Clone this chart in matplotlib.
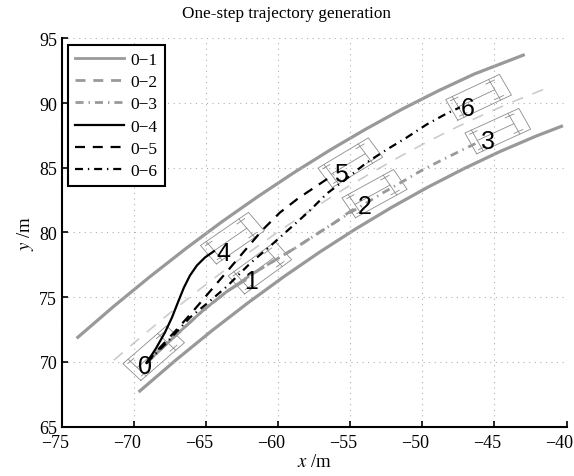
import numpy as np
import matplotlib
matplotlib.use('Agg')
import matplotlib.pyplot as plt
from matplotlib.transforms import ScaledTranslation

plt.rcParams['font.family'] = 'serif'
plt.rcParams['font.serif'] = ['Liberation Serif', 'DejaVu Serif']
plt.rcParams['mathtext.fontset'] = 'stix'

# Road geometry
upper_x = [-73.9, -71.4, -68.9, -66.4, -63.9, -61.4, -58.9, -56.4, -53.9, -51.4, -48.9, -46.4, -43.0]
upper_y = [71.9, 74.30, 76.58, 78.76, 80.83, 82.78, 84.63, 86.37, 88.0, 89.53, 90.94, 92.24, 93.7]
lower_x = [-69.6, -67.1, -64.6, -62.1, -59.6, -57.1, -54.6, -52.1, -49.6, -47.1, -44.6, -42.1, -40.35]
lower_y = [67.75, 70.14, 72.41, 74.56, 76.59, 78.50, 80.29, 81.96, 83.51, 84.94, 86.26, 87.45, 88.2]
center_x = [-71.4, -69.4, -67.5, -65.5, -63.5, -61.5, -59.5, -57.5, -55.5, -53.5, -51.5, -49.5,
            -47.5, -45.5, -43.5, -41.6]
center_y = [70.13, 72.04, 73.79, 75.56, 77.26, 78.88, 80.44, 81.91, 83.31, 84.64, 85.9, 87.09,
            88.2, 89.24, 90.2, 91.05]

# Trajectories 0-k
traj = {
    '0\u22121': ([-69.13, -67.16, -65.22, -63.56, -62.31],
                 [69.93, 72.00, 73.97, 75.44, 76.29]),
    '0\u22122': ([-69.13, -67.16, -65.22, -63.56, -61.96, -60.37, -58.77, -57.32, -56.07, -55.31, -54.54],
                 [69.93, 72.00, 73.97, 75.44, 76.67, 77.76, 78.83, 79.88, 80.77, 81.39, 81.97]),
    '0\u22123': ([-69.13, -67.16, -65.22, -63.56, -61.96, -60.37, -58.77, -57.32, -56.07, -55.03,
                  -52.72, -51.33, -49.94, -48.56, -47.17, -46.01],
                 [69.93, 72.00, 73.97, 75.44, 76.67, 77.76, 78.83, 79.88, 80.77, 81.51,
                  83.07, 83.96, 84.87, 85.64, 86.41, 87.03]),
    '0\u22124': ([-69.13, -68.48, -67.86, -67.37, -66.96, -66.54, -66.12, -65.64, -65.08, -64.46],
                 [69.93, 71.04, 72.27, 73.43, 74.59, 75.75, 76.68, 77.45, 78.07, 78.55]),
    '0\u22125': ([-69.13, -68.20, -67.16, -65.98, -64.74, -63.49, -62.31, -61.13, -59.88, -58.63, -57.39, -56.14],
                 [69.93, 71.11, 72.35, 73.82, 75.44, 77.06, 78.61, 80.15, 81.54, 82.62, 83.55, 84.48]),
    '0\u22126': ([-69.13, -67.86, -66.12, -64.94, -63.56, -61.96, -60.58, -59.19, -57.94, -56.62,
                  -55.51, -53.85, -52.46, -51.08, -49.69, -48.30, -47.40],
                 [69.93, 71.35, 73.43, 74.51, 75.83, 77.60, 78.92, 80.31, 81.55, 83.01,
                  83.94, 85.41, 86.41, 87.34, 88.35, 89.20, 89.66]),
}

# Vehicles: centre and heading (deg)
car_x = [-68.64, -61.27, -53.32, -44.77, -63.18, -55.00, -46.10]
car_y = [70.67, 77.27, 83.00, 87.83, 79.56, 85.39, 90.44]
car_hd = [44.0, 39.0, 31.5, 27.0, 37.6, 33.8, 27.6]
car_names = ['0', '1', '2', '3', '4', '5', '6']
label_x = [-69.76, -62.34, -54.51, -45.94, -64.32, -56.14, -47.33]
label_y = [69.67, 76.24, 82.03, 87.06, 78.43, 84.48, 89.64]

styles = {
    '0\u22121': dict(color='#999999', lw=2.0, ls='-'),
    '0\u22122': dict(color='#999999', lw=2.0, ls=(0, (3.6, 2.8))),
    '0\u22123': dict(color='#999999', lw=2.0, ls=(0, (2.9, 1.8, 0.5, 1.8))),
    '0\u22124': dict(color='black', lw=1.6, ls='-'),
    '0\u22125': dict(color='black', lw=1.6, ls=(0, (4.5, 3.5))),
    '0\u22126': dict(color='black', lw=1.6, ls=(0, (3.6, 2.2, 0.6, 2.2))),
}

CAR_L, CAR_W = 4.2, 1.8


def draw_car(ax, cx, cy, hd):
    c, s = np.cos(np.radians(hd)), np.sin(np.radians(hd))

    def seg(us, vs):
        us, vs = np.asarray(us), np.asarray(vs)
        ax.plot(cx + us * c - vs * s, cy + us * s + vs * c,
                color='#8c8c8c', lw=0.6, zorder=2)

    hl, hw = CAR_L / 2, CAR_W / 2
    seg([-hl, hl, hl, -hl, -hl], [-hw, -hw, hw, hw, -hw])
    ur, uf = -0.38 * CAR_L, 0.30 * CAR_L
    seg([ur, ur], [-hw, hw])
    seg([uf, uf], [-hw, hw])
    seg([ur, uf], [0, 0])
    for v in (-0.75 * hw, 0.75 * hw):
        seg([uf - 0.08 * CAR_L, uf + 0.08 * CAR_L], [v, v])
        seg([ur - 0.06 * CAR_L, ur + 0.08 * CAR_L], [v, v])


fig = plt.figure(figsize=(5.74, 4.77), dpi=100)
ax = fig.add_axes([0.108, 0.1036, 0.879, 0.814])

ax.plot(upper_x, upper_y, color='#999999', lw=2.3, zorder=1)
ax.plot(lower_x, lower_y, color='#999999', lw=2.3, zorder=1)
ax.plot(center_x, center_y, color='#cccccc', lw=1.2, ls=(0, (7, 6)), zorder=1)

for i in range(len(car_x)):
    draw_car(ax, car_x[i], car_y[i], car_hd[i])

for name, (tx, ty) in traj.items():
    ax.plot(tx, ty, label=name, zorder=3, **styles[name])

for i, n in enumerate(car_names):
    ax.text(label_x[i], label_y[i], n, family=['Liberation Sans', 'DejaVu Sans'],
            fontsize=18, ha='left', va='center', zorder=4)

ax.set_xlim(-75, -40)
ax.set_ylim(65, 95)
ax.set_xticks(np.arange(-75, -39, 5))
ax.set_yticks(np.arange(65, 96, 5))
ax.grid(True, color='#b0b0b0', lw=0.8, ls=(0, (1, 4)))
ax.tick_params(direction='in', length=4, width=1.2, labelsize=13)
ax.tick_params(axis='x', pad=5)
for lab in ax.get_xticklabels():
    lab.set_transform(lab.get_transform() + ScaledTranslation(-7 / 100, 0, fig.dpi_scale_trans))
for sp in ('top', 'right'):
    ax.spines[sp].set_visible(False)
for sp in ('left', 'bottom'):
    ax.spines[sp].set_linewidth(1.5)

ax.set_xlabel('$x$ /m', fontsize=13.5, labelpad=2)
ax.set_ylabel('$y$ /m', fontsize=13.5, labelpad=2)
fig.text(0.5, 0.97, 'One-step trajectory generation', fontsize=12.3, ha='center', va='center')

leg = ax.legend(loc='upper left', bbox_to_anchor=(0.012, 0.983), borderaxespad=0,
                fontsize=12.5, handlelength=2.8, fancybox=False, framealpha=1,
                edgecolor='black', labelspacing=0.35, handletextpad=0.4,
                borderpad=0.4)
leg.get_frame().set_linewidth(1.5)

fig.savefig('out.png', dpi=100)
